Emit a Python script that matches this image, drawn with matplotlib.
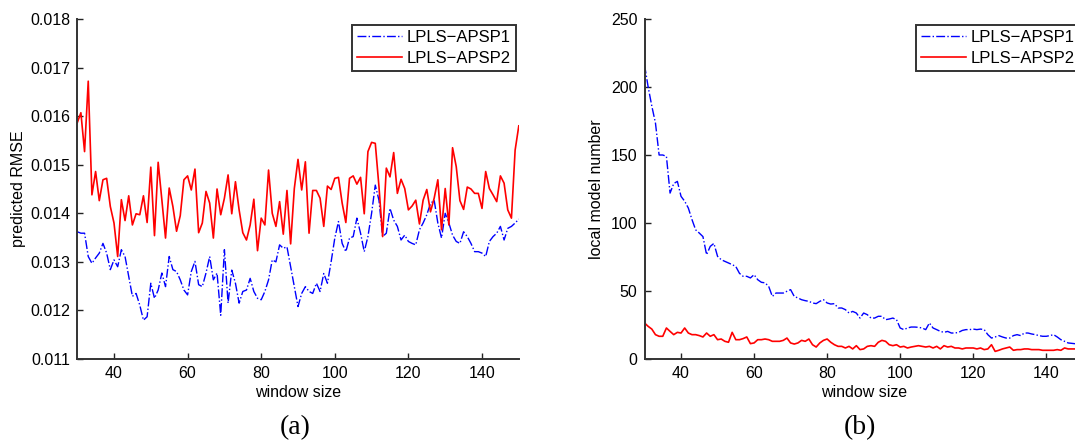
import numpy as np
import matplotlib
matplotlib.use("Agg")
import matplotlib.pyplot as plt

window = np.arange(30, 151)

rmse_apsp1 = [
    0.01362, 0.01359, 0.01359, 0.01311, 0.01297, 0.01308, 0.01318, 0.01338, 0.01318, 0.01284,
    0.01304, 0.01290, 0.01325, 0.01311, 0.01270, 0.01229, 0.01235, 0.01211, 0.01180, 0.01187,
    0.01256, 0.01225, 0.01242, 0.01277, 0.01249, 0.01311, 0.01284, 0.01280, 0.01263, 0.01242,
    0.01232, 0.01280, 0.01301, 0.01253, 0.01249, 0.01277, 0.01311, 0.01263, 0.01277, 0.01190,
    0.01325, 0.01215, 0.01283, 0.01256, 0.01215, 0.01239, 0.01242, 0.01266, 0.01239, 0.01225,
    0.01222, 0.01239, 0.01263, 0.01304, 0.01300, 0.01335, 0.01328, 0.01331, 0.01290, 0.01249,
    0.01208, 0.01235, 0.01249, 0.01239, 0.01235, 0.01256, 0.01239, 0.01276, 0.01256, 0.01300,
    0.01349, 0.01383, 0.01338, 0.01321, 0.01349, 0.01352, 0.01390, 0.01359, 0.01321, 0.01352,
    0.01400, 0.01458, 0.01427, 0.01352, 0.01359, 0.01410, 0.01386, 0.01373, 0.01345, 0.01355,
    0.01342, 0.01338, 0.01335, 0.01366, 0.01380, 0.01397, 0.01420, 0.01427, 0.01380, 0.01349,
    0.01400, 0.01380, 0.01355, 0.01342, 0.01338, 0.01362, 0.01352, 0.01338, 0.01321, 0.01321,
    0.01318, 0.01311, 0.01342, 0.01352, 0.01359, 0.01373, 0.01345, 0.01369, 0.01373, 0.01380,
    0.01388,
]

rmse_apsp2 = [
    0.01586, 0.01607, 0.01527, 0.01672, 0.01438, 0.01486, 0.01426, 0.01469, 0.01472, 0.01414,
    0.01380, 0.01311, 0.01428, 0.01385, 0.01436, 0.01376, 0.01399, 0.01397, 0.01436, 0.01381,
    0.01495, 0.01354, 0.01505, 0.01428, 0.01349, 0.01452, 0.01414, 0.01363, 0.01395, 0.01469,
    0.01477, 0.01448, 0.01491, 0.01360, 0.01380, 0.01445, 0.01421, 0.01349, 0.01450, 0.01397,
    0.01431, 0.01479, 0.01399, 0.01465, 0.01407, 0.01360, 0.01345, 0.01376, 0.01429, 0.01323,
    0.01390, 0.01376, 0.01489, 0.01400, 0.01373, 0.01424, 0.01357, 0.01447, 0.01337, 0.01451,
    0.01511, 0.01448, 0.01506, 0.01359, 0.01447, 0.01447, 0.01431, 0.01373, 0.01456, 0.01449,
    0.01472, 0.01474, 0.01421, 0.01381, 0.01472, 0.01477, 0.01460, 0.01474, 0.01399, 0.01527,
    0.01546, 0.01544, 0.01455, 0.01352, 0.01493, 0.01475, 0.01525, 0.01441, 0.01470, 0.01451,
    0.01407, 0.01415, 0.01427, 0.01378, 0.01427, 0.01449, 0.01403, 0.01431, 0.01469, 0.01366,
    0.01451, 0.01376, 0.01535, 0.01496, 0.01426, 0.01408, 0.01454, 0.01450, 0.01441, 0.01441,
    0.01410, 0.01486, 0.01451, 0.01438, 0.01424, 0.01477, 0.01462, 0.01407, 0.01390, 0.01530,
    0.01580,
]

models_apsp1 = [
    216.4, 200.0, 186.0, 173.5, 150.0, 150.0, 149.0, 122.0, 129.0, 130.6,
    119.6, 116.0, 111.0, 102.5, 95.0, 92.6, 90.0, 76.7, 82.8, 85.0,
    75.5, 73.0, 71.8, 70.6, 69.4, 68.0, 63.0, 60.8, 60.8, 59.6,
    62.0, 58.3, 56.4, 56.0, 53.4, 46.0, 48.5, 48.5, 48.5, 49.8,
    51.0, 46.0, 44.9, 43.6, 42.9, 42.4, 41.2, 40.7, 42.4, 43.6,
    41.2, 40.4, 40.7, 37.5, 37.5, 36.3, 33.8, 35.0, 33.8, 30.1,
    33.8, 32.6, 30.1, 30.1, 31.4, 31.4, 28.9, 29.4, 30.1, 28.9,
    22.8, 21.6, 22.8, 23.5, 23.5, 23.3, 22.8, 21.6, 26.5, 22.8,
    21.6, 20.3, 19.6, 20.3, 19.1, 19.1, 19.6, 21.0, 21.6, 21.6,
    22.0, 21.6, 22.0, 21.6, 17.9, 15.4, 16.2, 17.2, 16.2, 15.4,
    15.4, 17.2, 17.9, 17.2, 19.1, 19.1, 18.4, 17.9, 17.2, 16.7,
    16.7, 17.2, 17.9, 16.2, 14.2, 13.0, 11.8, 11.5, 11.2, 11.0,
    10.8,
]

models_apsp2 = [
    26.5, 24.0, 22.0, 17.9, 16.7, 16.7, 22.8, 20.3, 17.9, 19.6,
    19.1, 22.8, 19.1, 17.9, 17.9, 17.2, 16.2, 19.1, 16.7, 17.9,
    14.2, 14.7, 13.0, 12.3, 19.6, 14.2, 14.2, 15.0, 16.2, 11.3,
    11.8, 14.2, 14.2, 14.7, 14.2, 13.0, 13.0, 13.0, 13.7, 15.4,
    11.8, 11.0, 11.8, 13.7, 13.0, 14.7, 10.5, 8.8, 11.8, 13.7,
    14.7, 12.3, 10.5, 9.3, 9.3, 8.1, 9.3, 7.4, 9.8, 6.9,
    7.4, 9.3, 9.8, 9.3, 12.3, 13.7, 13.0, 10.5, 9.8, 10.5,
    8.8, 9.3, 8.1, 8.8, 9.3, 9.8, 9.3, 8.8, 9.3, 8.1,
    9.3, 7.4, 9.8, 8.8, 9.3, 8.1, 8.1, 7.4, 8.1, 8.1,
    8.1, 7.4, 8.1, 6.9, 7.4, 10.5, 5.6, 6.4, 7.4, 8.1,
    8.8, 6.4, 6.9, 6.9, 7.4, 7.4, 6.9, 6.9, 6.9, 6.4,
    6.4, 6.4, 6.4, 6.9, 6.4, 8.1, 7.4, 7.4, 7.4, 7.8,
    8.0,
]

series_labels = ["LPLS\u2212APSP1", "LPLS\u2212APSP2"]
rmse_ticks = [0.011, 0.012, 0.013, 0.014, 0.015, 0.016, 0.017, 0.018]
model_ticks = [0, 50, 100, 150, 200, 250]
x_ticks = [40, 60, 80, 100, 120, 140]

plt.rcParams['font.family'] = ['Liberation Sans', 'DejaVu Sans']
plt.rcParams['font.size'] = 11

W, H = 1075, 444
fig = plt.figure(figsize=(W / 100, H / 100), dpi=100)
fig.patch.set_facecolor('white')

ax1 = fig.add_axes([77.2 / W, 85 / H, 441.6 / W, 340 / H])
ax2 = fig.add_axes([644.5 / W, 85 / H, 438.3 / W, 340 / H])


def style(ax):
    for s in ['top', 'right']:
        ax.spines[s].set_visible(False)
    for s in ['left', 'bottom']:
        ax.spines[s].set_color('#333333')
        ax.spines[s].set_linewidth(1.4)
    ax.tick_params(direction='in', length=4, width=1, colors='#222222',
                   labelsize=11.5, labelcolor='black', pad=5)
    ax.set_xlim(30, 150)
    ax.set_xticks(x_ticks)
    ax.set_xlabel('window size', fontsize=11.5, labelpad=3)
    leg = ax.legend(loc='upper right', frameon=True, fancybox=False,
                    fontsize=12, handlelength=2.7, handletextpad=0.3,
                    borderpad=0.3, labelspacing=0.33, borderaxespad=0,
                    bbox_to_anchor=(0.994, 0.982))
    leg.get_frame().set_edgecolor('black')
    leg.get_frame().set_linewidth(1.4)


ax1.plot(window, rmse_apsp1, color='#0000ff', linestyle='-.', linewidth=1.0,
         label=series_labels[0])
ax1.plot(window, rmse_apsp2, color='#ff0000', linestyle='-', linewidth=1.2,
         label=series_labels[1])
ax1.set_ylim(0.011, 0.018)
ax1.set_yticks(rmse_ticks)
ax1.set_yticklabels([f"{v:.3f}" for v in rmse_ticks])
ax1.set_ylabel('predicted RMSE', fontsize=11.5, labelpad=3)
style(ax1)

ax2.plot(window, models_apsp1, color='#0000ff', linestyle='-.', linewidth=1.0,
         label=series_labels[0])
ax2.plot(window, models_apsp2, color='#ff0000', linestyle='-', linewidth=1.2,
         label=series_labels[1])
ax2.set_ylim(0, 250)
ax2.set_yticks(model_ticks)
ax2.set_ylabel('local model number', fontsize=11.5, labelpad=5)
style(ax2)

fig.text(295 / W, 1 - 428 / H, '(a)', family=['Liberation Serif', 'DejaVu Serif'],
         fontsize=20, ha='center', va='center')
fig.text(860 / W, 1 - 428 / H, '(b)', family=['Liberation Serif', 'DejaVu Serif'],
         fontsize=20, ha='center', va='center')

fig.savefig('out.png', dpi=100)
